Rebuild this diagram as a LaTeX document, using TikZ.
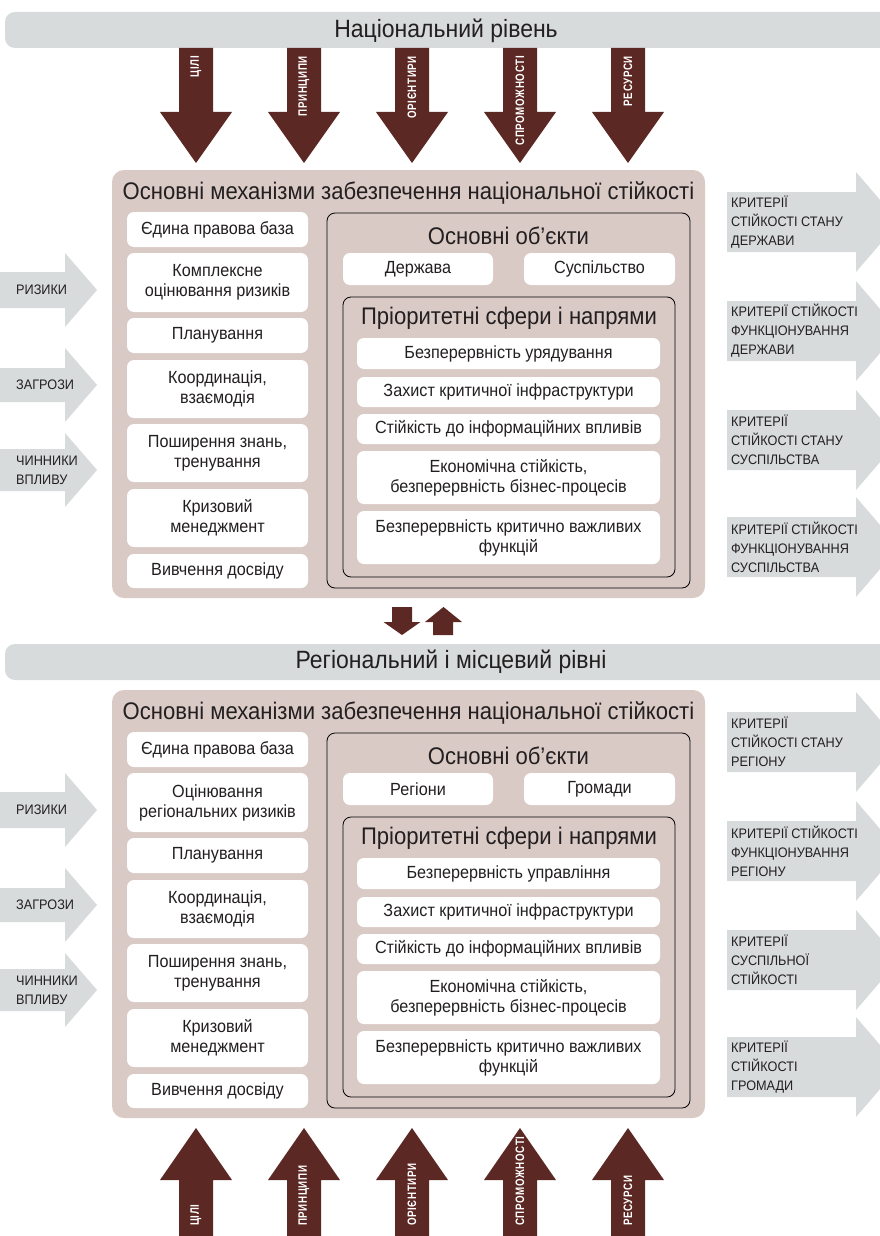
\documentclass[tikz,border=0pt]{standalone}
\usepackage{fontspec}
\setmainfont{Liberation Sans}[FakeStretch=0.92]
\newfontfamily\arrowfont{Liberation Sans}[FakeStretch=0.8, LetterSpace=5]
\definecolor{bargray}{RGB}{216,219,219}
\definecolor{mechpink}{RGB}{217,202,197}
\definecolor{arrbrown}{RGB}{92,40,36}
\definecolor{inkdark}{RGB}{35,31,32}

\begin{document}
\begin{tikzpicture}[x=1pt, y=-1pt,
  every node/.style={align=center, inner sep=0pt, text=inkdark},
  bar/.style={fill=bargray, rounded corners=10pt},
  bartext/.style={font=\fontsize{25}{30}\selectfont},
  mech/.style={fill=mechpink, rounded corners=12pt},
  mechtitle/.style={font=\fontsize{24}{28}\selectfont},
  item/.style={fill=white, rounded corners=7pt, font=\fontsize{17.6}{20}\selectfont},
  objframe/.style={draw=black, line width=0.8pt, rounded corners=8pt},
  crit/.style={font=\fontsize{13.8}{19}\selectfont, align=left, anchor=west},
  flow/.style={fill=bargray},
  push/.style={fill=arrbrown},
  pushtext/.style={font=\arrowfont\bfseries\fontsize{12.2}{15}\selectfont, text=white, rotate=90}]
  \path[use as bounding box, clip] (0,0) rectangle (880,1236);
  \fill[white] (0,0) rectangle (880,1236);

  % national level
  \fill[bar] (5,12) rectangle (900,48);
  \node[bartext] (natLevel) at (446,31) {Національний рівень};
  \foreach \x/\t in {196/ЦІЛІ, 304/ПРИНЦИПИ, 412/ОРІЄНТИРИ, 520/СПРОМОЖНОСТІ, 628/РЕСУРСИ} {
    \fill[push] (\x-17,48) -- (\x+17,48) -- (\x+17,112) -- (\x+36,112) -- (\x,163)
      -- (\x-36,112) -- (\x-17,112) -- cycle;
    \node[pushtext, anchor=east] at (\x,56) {\t};
  }
  \node[mech, minimum width=593pt, minimum height=428pt] (natMech) at (408.5,384) {};
  \node[mechtitle] (natMechTitle) at (408.5,193) {Основні механізми забезпечення національної стійкості};
  \node[item, minimum width=181pt, minimum height=35pt] (natLaw) at (217.5,229.5) {Єдина правова база};
  \node[item, minimum width=181pt, minimum height=59pt] (natRisk) at (217.5,282.5) {Комплексне\\оцінювання ризиків};
  \node[item, minimum width=181pt, minimum height=35pt] (natPlan) at (217.5,335.5) {Планування};
  \node[item, minimum width=181pt, minimum height=58pt] (natCoord) at (217.5,389) {Координація,\\взаємодія};
  \node[item, minimum width=181pt, minimum height=58pt] (natKnow) at (217.5,453) {Поширення знань,\\тренування};
  \node[item, minimum width=181pt, minimum height=58pt] (natCrisis) at (217.5,518) {Кризовий\\менеджмент};
  \node[item, minimum width=181pt, minimum height=34pt] (natExp) at (217.5,571) {Вивчення досвіду};
  \node[objframe, minimum width=363pt, minimum height=375pt] (natObj) at (508.5,400.5) {};
  \node[mechtitle] (natObjTitle) at (508.5,236) {Основні об’єкти};
  \node[item, minimum width=150pt, minimum height=32pt] (natState) at (418,269) {Держава};
  \node[item, minimum width=151pt, minimum height=32pt] (natSociety) at (599.5,269) {Суспільство};
  \node[objframe, minimum width=332pt, minimum height=280pt] (natPrio) at (509,437) {};
  \node[mechtitle] (natPrioTitle) at (509,318) {Пріоритетні сфери і напрями};
  \node[item, minimum width=303pt, minimum height=31pt] (natGov) at (508.5,353.5) {Безперервність урядування};
  \node[item, minimum width=303pt, minimum height=30pt] (natInfra) at (508.5,392) {Захист критичної інфраструктури};
  \node[item, minimum width=303pt, minimum height=30pt] (natInfo) at (508.5,429) {Стійкість до інформаційних впливів};
  \node[item, minimum width=303pt, minimum height=53pt] (natEcon) at (508.5,477.5) {Економічна стійкість,\\безперервність бізнес-процесів};
  \node[item, minimum width=303pt, minimum height=53pt] (natFunc) at (508.5,537.5) {Безперервність критично важливих\\функцій};
  \foreach \y/\h/\t in {290/18/РИЗИКИ, 385/17/ЗАГРОЗИ, 470/21/{ЧИННИКИ\\ВПЛИВУ}} {
    \fill[flow] (0,\y-\h) -- (65,\y-\h) -- (65,\y-37) -- (97,\y) -- (65,\y+37)
      -- (65,\y+\h) -- (0,\y+\h) -- cycle;
    \node[crit] at (16,\y) {\t};
  }
  \foreach \y/\t in {222/{КРИТЕРІЇ\\СТІЙКОСТІ СТАНУ\\ДЕРЖАВИ},
      331/{КРИТЕРІЇ СТІЙКОСТІ\\ФУНКЦІОНУВАННЯ\\ДЕРЖАВИ},
      440/{КРИТЕРІЇ\\СТІЙКОСТІ СТАНУ\\СУСПІЛЬСТВА},
      547/{КРИТЕРІЇ СТІЙКОСТІ\\ФУНКЦІОНУВАННЯ\\СУСПІЛЬСТВА}} {
    \fill[flow] (727,\y-30) -- (856,\y-30) -- (856,\y-50) -- (899,\y) -- (856,\y+50)
      -- (856,\y+30) -- (727,\y+30) -- cycle;
    \node[crit] at (731,\y) {\t};
  }

  % exchange between levels
  \fill[push] (392,607) -- (412,607) -- (412,622) -- (420.5,622) -- (402,635)
    -- (383.5,622) -- (392,622) -- cycle;
  \fill[push] (433,635) -- (453,635) -- (453,622) -- (462,622) -- (443.5,607)
    -- (425,622) -- (433,622) -- cycle;

  % regional and local level
  \fill[bar] (5,644) rectangle (900,680);
  \node[bartext] (regLevel) at (451,662) {Регіональний і місцевий рівні};
  \node[mech, minimum width=593pt, minimum height=428pt] (regMech) at (408.5,904) {};
  \node[mechtitle] (regMechTitle) at (408.5,713) {Основні механізми забезпечення національної стійкості};
  \node[item, minimum width=181pt, minimum height=35pt] (regLaw) at (217.5,749.5) {Єдина правова база};
  \node[item, minimum width=181pt, minimum height=59pt] (regRisk) at (217.5,802.5) {Оцінювання\\регіональних ризиків};
  \node[item, minimum width=181pt, minimum height=35pt] (regPlan) at (217.5,855.5) {Планування};
  \node[item, minimum width=181pt, minimum height=58pt] (regCoord) at (217.5,909) {Координація,\\взаємодія};
  \node[item, minimum width=181pt, minimum height=58pt] (regKnow) at (217.5,973) {Поширення знань,\\тренування};
  \node[item, minimum width=181pt, minimum height=58pt] (regCrisis) at (217.5,1038) {Кризовий\\менеджмент};
  \node[item, minimum width=181pt, minimum height=34pt] (regExp) at (217.5,1091) {Вивчення досвіду};
  \node[objframe, minimum width=363pt, minimum height=375pt] (regObj) at (508.5,920.5) {};
  \node[mechtitle] (regObjTitle) at (508.5,756) {Основні об’єкти};
  \node[item, minimum width=150pt, minimum height=32pt] (regRegions) at (418,789) {Регіони};
  \node[item, minimum width=151pt, minimum height=32pt] (regCommunity) at (599.5,789) {Громади};
  \node[objframe, minimum width=332pt, minimum height=280pt] (regPrio) at (509,957) {};
  \node[mechtitle] (regPrioTitle) at (509,838) {Пріоритетні сфери і напрями};
  \node[item, minimum width=303pt, minimum height=31pt] (regGov) at (508.5,873.5) {Безперервність управління};
  \node[item, minimum width=303pt, minimum height=30pt] (regInfra) at (508.5,912) {Захист критичної інфраструктури};
  \node[item, minimum width=303pt, minimum height=30pt] (regInfo) at (508.5,949) {Стійкість до інформаційних впливів};
  \node[item, minimum width=303pt, minimum height=53pt] (regEcon) at (508.5,997.5) {Економічна стійкість,\\безперервність бізнес-процесів};
  \node[item, minimum width=303pt, minimum height=53pt] (regFunc) at (508.5,1057.5) {Безперервність критично важливих\\функцій};
  \foreach \y/\h/\t in {810/18/РИЗИКИ, 905/17/ЗАГРОЗИ, 990/21/{ЧИННИКИ\\ВПЛИВУ}} {
    \fill[flow] (0,\y-\h) -- (65,\y-\h) -- (65,\y-37) -- (97,\y) -- (65,\y+37)
      -- (65,\y+\h) -- (0,\y+\h) -- cycle;
    \node[crit] at (16,\y) {\t};
  }
  \foreach \y/\t in {742/{КРИТЕРІЇ\\СТІЙКОСТІ СТАНУ\\РЕГІОНУ},
      851/{КРИТЕРІЇ СТІЙКОСТІ\\ФУНКЦІОНУВАННЯ\\РЕГІОНУ},
      960/{КРИТЕРІЇ\\СУСПІЛЬНОЇ\\СТІЙКОСТІ},
      1067/{КРИТЕРІЇ\\СТІЙКОСТІ\\ГРОМАДИ}} {
    \fill[flow] (727,\y-30) -- (856,\y-30) -- (856,\y-50) -- (899,\y) -- (856,\y+50)
      -- (856,\y+30) -- (727,\y+30) -- cycle;
    \node[crit] at (731,\y) {\t};
  }
  \foreach \x/\t in {196/ЦІЛІ, 304/ПРИНЦИПИ, 412/ОРІЄНТИРИ, 520/СПРОМОЖНОСТІ, 628/РЕСУРСИ} {
    \fill[push] (\x-17,1240) -- (\x-17,1180) -- (\x-36,1180) -- (\x,1128)
      -- (\x+36,1180) -- (\x+17,1180) -- (\x+17,1240) -- cycle;
    \node[pushtext, anchor=west] at (\x,1226) {\t};
  }
\end{tikzpicture}
\end{document}
